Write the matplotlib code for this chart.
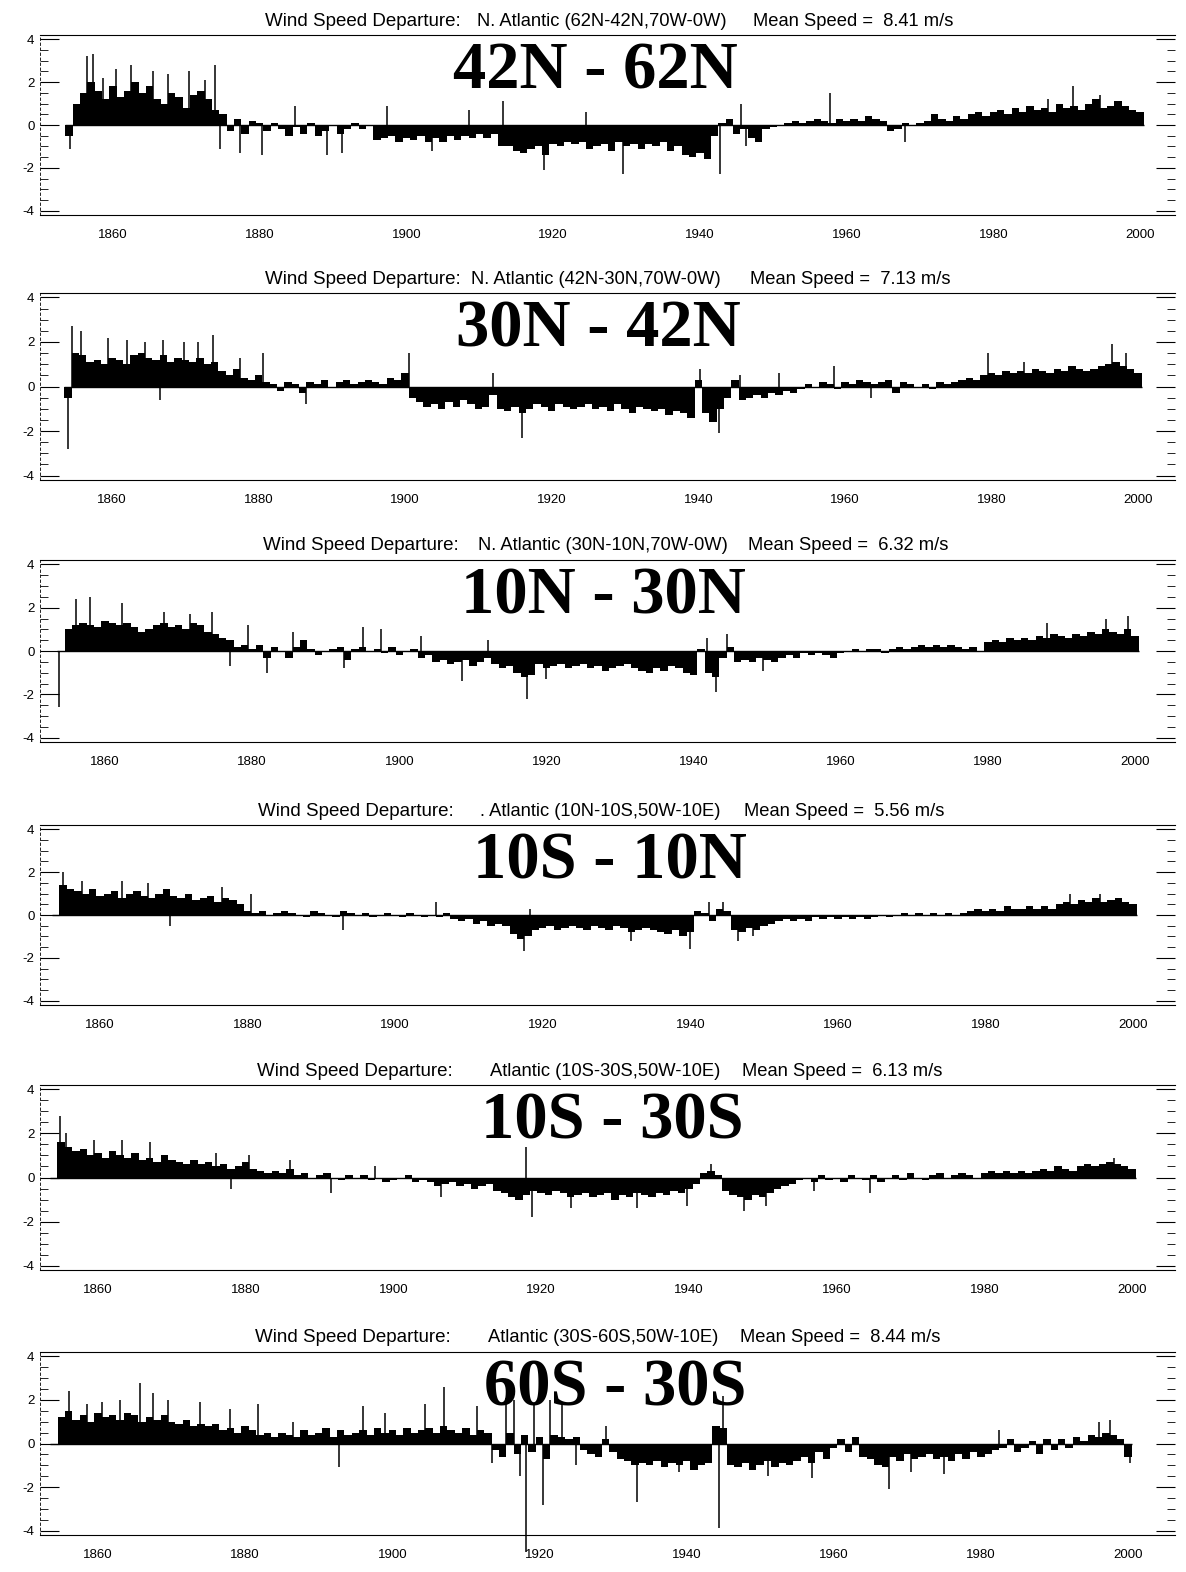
import numpy as np
import matplotlib
matplotlib.use("Agg")
import matplotlib.pyplot as plt

plt.rcParams['font.family'] = ['Liberation Sans', 'DejaVu Sans']

years = np.arange(1854, 2001)

# annual departures (m/s), 1854-2000
dep_42_62 = [
    -0.5,
    1.0, 1.5, 2.0, 1.6, 1.2, 1.8, 1.3, 1.6, 2.0,
    1.5, 1.8, 1.2, 1.0, 1.5, 1.3, 0.8, 1.4, 1.6, 1.2,
    0.7, 0.5, -0.3, 0.3, -0.4, 0.2, 0.1, -0.3, 0.1, -0.2,
    -0.5, -0.1, -0.4, 0.1, -0.5, -0.3, 0.0, -0.4, -0.2, 0.1,
    -0.2, 0.0, -0.7, -0.6, -0.5, -0.8, -0.6, -0.7, -0.5, -0.8,
    -0.6, -0.8, -0.5, -0.7, -0.5, -0.6, -0.4, -0.6, -0.4, -1.0,
    -1.0, -1.2, -1.3, -1.1, -1.0, -1.4, -0.9, -1.0, -0.8, -0.9,
    -0.8, -1.1, -1.0, -0.9, -1.2, -0.8, -1.0, -0.9, -1.1, -0.9,
    -1.0, -0.8, -1.2, -1.0, -1.4, -1.5, -1.3, -1.6, -0.5, 0.1,
    0.3, -0.4, -0.2, -0.6, -0.8, -0.2, -0.1, 0.0, 0.1, 0.2,
    0.1, 0.2, 0.3, 0.2, 0.1, 0.3, 0.2, 0.3, 0.2, 0.4,
    0.3, 0.2, -0.3, -0.2, 0.1, 0.0, 0.1, 0.2, 0.5, 0.3,
    0.2, 0.4, 0.3, 0.5, 0.6, 0.4, 0.6, 0.7, 0.5, 0.8,
    0.6, 0.9, 0.7, 0.8, 0.6, 1.0, 0.8, 0.9, 0.7, 1.0,
    1.2, 0.8, 0.9, 1.1, 0.9, 0.7, 0.6,
]
dep_30_42 = [
    -0.5,
    1.5, 1.4, 1.1, 1.2, 1.0, 1.3, 1.2, 1.0, 1.4, 1.5,
    1.3, 1.2, 1.4, 1.1, 1.3, 1.2, 1.1, 1.3, 1.0, 1.1,
    0.7, 0.5, 0.8, 0.4, 0.3, 0.5, 0.2, 0.1, -0.2, 0.2,
    0.1, -0.3, 0.2, 0.1, 0.3, 0.0, 0.2, 0.3, 0.1, 0.2,
    0.3, 0.2, 0.1, 0.4, 0.3, 0.6, -0.5, -0.7, -0.9, -0.8,
    -1.0, -0.7, -0.9, -0.6, -0.8, -1.0, -0.9, -0.4, -1.0, -1.1,
    -0.9, -1.2, -1.0, -0.8, -0.9, -1.1, -0.8, -0.9, -1.0, -0.9,
    -0.8, -1.0, -0.9, -1.1, -0.8, -1.0, -1.2, -0.9, -1.0, -1.1,
    -1.0, -1.3, -1.1, -1.2, -1.4, 0.3, -1.2, -1.6, -1.0, -0.5,
    0.3, -0.6, -0.5, -0.4, -0.5, -0.3, -0.4, -0.2, -0.3, -0.1,
    0.1, 0.0, 0.2, 0.1, -0.1, 0.2, 0.1, 0.3, 0.2, 0.1,
    0.2, 0.3, -0.3, 0.2, 0.1, 0.0, 0.1, -0.1, 0.2, 0.1,
    0.2, 0.3, 0.4, 0.3, 0.5, 0.6, 0.5, 0.7, 0.6, 0.7,
    0.6, 0.8, 0.7, 0.6, 0.8, 0.7, 0.9, 0.8, 0.7, 0.8,
    0.9, 1.0, 1.1, 0.9, 0.8, 0.6,
]
dep_10_30 = [
    0.0,
    1.0, 1.2, 1.3, 1.2, 1.1, 1.4, 1.3, 1.2, 1.3, 1.1,
    0.9, 1.0, 1.2, 1.3, 1.1, 1.2, 1.0, 1.3, 1.2, 0.9,
    0.8, 0.6, 0.5, 0.2, 0.3, 0.1, 0.3, -0.3, 0.2, 0.0,
    -0.3, 0.2, 0.5, 0.1, -0.2, 0.0, 0.1, 0.2, -0.4, 0.1,
    0.2, 0.0, 0.1, -0.1, 0.2, -0.2, 0.0, 0.1, -0.3, -0.2,
    -0.5, -0.4, -0.6, -0.5, -0.4, -0.7, -0.5, -0.3, -0.6, -0.8,
    -0.7, -1.0, -1.2, -1.1, -0.6, -0.8, -0.7, -0.6, -0.8, -0.7,
    -0.6, -0.8, -0.7, -0.9, -0.8, -0.7, -0.6, -0.8, -0.9, -1.0,
    -0.8, -0.9, -0.7, -0.8, -1.0, -1.1, 0.1, -1.0, -1.2, -0.3,
    0.2, -0.5, -0.4, -0.5, -0.3, -0.4, -0.5, -0.3, -0.2, -0.3,
    -0.1, -0.2, -0.1, -0.2, -0.3, -0.1, 0.0, 0.1, 0.0, 0.1,
    0.1, -0.1, 0.1, 0.2, 0.1, 0.2, 0.3, 0.2, 0.3, 0.2,
    0.3, 0.2, 0.1, 0.2, 0.0, 0.4, 0.5, 0.4, 0.6, 0.5,
    0.6, 0.5, 0.7, 0.6, 0.8, 0.7, 0.6, 0.8, 0.7, 0.9,
    0.8, 1.0, 0.9, 0.8, 1.0, 0.7,
]
dep_10s_10n = [
    0.0,
    1.4, 1.2, 1.1, 1.0, 1.2, 0.9, 1.0, 1.1, 0.8, 1.0,
    1.1, 0.9, 0.8, 1.0, 1.2, 0.9, 0.8, 1.0, 0.7, 0.8,
    0.9, 0.6, 0.8, 0.7, 0.5, 0.2, 0.1, 0.2, 0.0, 0.1,
    0.2, 0.1, 0.0, -0.1, 0.2, 0.1, 0.0, -0.1, 0.2, 0.1,
    0.0, 0.1, -0.1, 0.0, 0.1, 0.0, -0.1, 0.1, 0.0, -0.1,
    0.0, -0.1, 0.1, -0.2, -0.3, -0.2, -0.4, -0.3, -0.5, -0.4,
    -0.5, -0.9, -1.1, -1.0, -0.7, -0.6, -0.5, -0.7, -0.6, -0.5,
    -0.6, -0.7, -0.5, -0.6, -0.7, -0.5, -0.6, -0.8, -0.7, -0.6,
    -0.7, -0.8, -0.9, -0.7, -1.0, -0.8, 0.2, 0.1, -0.3, 0.3,
    0.2, -0.7, -0.8, -0.6, -0.7, -0.5, -0.4, -0.3, -0.2, -0.3,
    -0.2, -0.3, -0.1, -0.2, -0.1, -0.2, -0.1, -0.2, -0.1, -0.2,
    -0.1, 0.0, -0.1, 0.0, 0.1, 0.0, 0.1, 0.0, 0.1, 0.0,
    0.1, 0.0, 0.1, 0.2, 0.3, 0.2, 0.3, 0.2, 0.4, 0.3,
    0.3, 0.4, 0.3, 0.4, 0.3, 0.5, 0.6, 0.5, 0.7, 0.6,
    0.8, 0.6, 0.7, 0.8, 0.6, 0.5,
]
dep_10s_30s = [
    0.0,
    1.6, 1.4, 1.2, 1.3, 1.0, 1.1, 0.9, 1.2, 1.0, 0.9,
    1.1, 0.8, 0.9, 0.7, 1.0, 0.8, 0.7, 0.6, 0.8, 0.6,
    0.7, 0.5, 0.6, 0.4, 0.5, 0.7, 0.4, 0.3, 0.2, 0.3,
    0.2, 0.4, 0.1, 0.2, 0.0, 0.1, 0.2, 0.0, -0.1, 0.1,
    0.0, 0.1, -0.1, 0.0, -0.2, -0.1, 0.0, 0.1, -0.2, -0.1,
    -0.2, -0.4, -0.3, -0.2, -0.4, -0.3, -0.5, -0.4, -0.3, -0.6,
    -0.7, -0.9, -1.0, -0.8, -0.6, -0.7, -0.8, -0.6, -0.7, -0.9,
    -0.8, -0.7, -0.9, -0.8, -0.7, -1.0, -0.8, -0.9, -0.7, -0.8,
    -0.9, -0.7, -0.8, -0.6, -0.7, -0.5, -0.3, 0.2, 0.3, 0.1,
    -0.6, -0.8, -0.9, -1.0, -0.8, -0.9, -0.7, -0.5, -0.4, -0.3,
    -0.1, 0.0, -0.2, 0.1, -0.1, 0.0, -0.2, 0.1, 0.0, -0.1,
    0.1, -0.2, 0.0, 0.1, -0.1, 0.2, 0.0, -0.1, 0.1, 0.2,
    0.0, 0.1, 0.2, 0.1, 0.0, 0.2, 0.3, 0.2, 0.3, 0.2,
    0.3, 0.2, 0.3, 0.4, 0.3, 0.5, 0.4, 0.3, 0.5, 0.6,
    0.5, 0.6, 0.7, 0.6, 0.5, 0.4,
]
dep_60s_30s = [
    0.0,
    1.2, 1.5, 1.1, 1.3, 1.0, 1.4, 1.2, 1.3, 1.1, 1.4,
    1.3, 1.0, 1.2, 1.1, 1.3, 1.0, 0.9, 1.1, 0.8, 0.9,
    0.8, 0.9, 0.6, 0.7, 0.5, 0.8, 0.6, 0.4, 0.5, 0.3,
    0.5, 0.4, 0.3, 0.6, 0.4, 0.5, 0.7, 0.3, 0.6, 0.4,
    0.5, 0.6, 0.4, 0.7, 0.5, 0.6, 0.4, 0.7, 0.5, 0.6,
    0.7, 0.5, 0.8, 0.6, 0.5, 0.7, 0.4, 0.6, 0.5, -0.3,
    -0.6, 0.5, -0.5, 0.4, -0.4, 0.3, -0.7, 0.4, 0.3, 0.2,
    0.3, -0.3, -0.5, -0.6, 0.2, -0.4, -0.7, -0.8, -1.0, -0.9,
    -1.0, -0.8, -1.1, -0.9, -1.0, -0.8, -1.2, -1.0, -0.9, 0.8,
    0.7, -1.0, -1.1, -0.9, -1.2, -1.0, -0.8, -1.1, -0.9, -1.0,
    -0.8, -0.6, -0.9, -0.4, -0.7, -0.2, 0.2, -0.4, 0.3, -0.6,
    -0.7, -1.0, -1.1, -0.6, -0.8, -0.5, -0.7, -0.6, -0.5, -0.7,
    -0.6, -0.8, -0.5, -0.7, -0.4, -0.6, -0.5, -0.3, -0.2, 0.2,
    -0.4, -0.2, 0.1, -0.5, 0.2, -0.3, 0.2, -0.2, 0.3, 0.1,
    0.4, 0.3, 0.5, 0.4, 0.2, -0.6,
]

# single-month spikes (decimal year, departure)
spk_42_62 = [(1854.2, -1.1), (1856.5, 3.2), (1857.3, 3.3), (1858.6, 2.2), (1860.4, 2.6),
             (1862.4, 2.8), (1865.5, 2.5), (1867.5, 2.4), (1870.4, 2.5), (1872.6, 2.1),
             (1873.9, 2.8), (1874.6, -1.1), (1877.3, -1.3), (1880.3, -1.4), (1884.8, 0.9),
             (1889.2, -1.4), (1891.2, -1.3), (1897.3, 0.9), (1903.5, -1.2), (1908.5, 0.7),
             (1913.2, 1.1), (1918.8, -2.1), (1924.5, 0.6), (1929.5, -2.3), (1942.8, -2.3),
             (1945.6, 1.0), (1946.3, -1.0), (1957.8, 1.5), (1968.0, -0.8), (1987.5, 1.2),
             (1990.8, 1.8), (1994.5, 1.4)]
spk_30_42 = [(1854.0, -2.8), (1854.6, 2.7), (1855.8, 2.5), (1859.5, 2.2), (1862.0, 2.1),
             (1864.5, 2.0), (1866.9, 2.1), (1869.8, 2.0), (1871.7, 2.0), (1873.8, 2.3),
             (1866.5, -0.6), (1877.5, 1.3), (1880.6, 1.5), (1886.5, -0.8), (1900.5, 1.5),
             (1912.0, 0.6), (1915.9, -2.3), (1940.3, 0.8), (1942.8, -2.1), (1945.7, 0.5),
             (1951.0, 0.6), (1958.5, 0.9), (1963.5, -0.5), (1979.5, 1.5), (1984.5, 1.1),
             (1996.5, 1.9), (1998.3, 1.5)]
spk_10_30 = [(1853.8, -2.6), (1856.0, 2.4), (1858.0, 2.5), (1862.3, 2.2), (1868.0, 1.8),
             (1871.5, 1.7), (1874.5, 1.8), (1877.0, -0.7), (1879.5, 1.2), (1882.0, -1.0),
             (1885.5, 0.9), (1892.5, -0.8), (1895.0, 1.1), (1897.5, 1.0), (1903.0, 0.7),
             (1908.5, -1.4), (1912.0, 0.5), (1917.3, -2.2), (1920.0, -1.3), (1941.8, 0.6),
             (1943.0, -1.9), (1944.5, 0.8), (1949.5, -0.9), (1988.0, 1.3), (1996.0, 1.5),
             (1999.0, 1.6)]
spk_10s_10n = [(1855.0, 2.0), (1857.5, 1.6), (1863.0, 1.6), (1866.5, 1.5), (1876.5, 1.3),
               (1869.5, -0.5), (1880.5, 1.0), (1893.0, -0.7), (1905.5, 0.6), (1917.5, -1.7),
               (1918.3, 0.3), (1932.0, -1.2), (1940.0, -1.6), (1942.5, 0.6), (1944.5, 0.6),
               (1946.5, -1.2), (1948.5, -1.0), (1991.5, 1.0), (1995.5, 1.0)]
spk_10s_30s = [(1854.8, 2.8), (1855.6, 2.0), (1859.5, 1.7), (1863.3, 1.7), (1867.0, 1.6),
               (1876.0, 1.1), (1878.0, -0.5), (1880.5, 1.0), (1886.0, 0.8), (1891.5, -0.7),
               (1897.5, 0.5), (1906.5, -0.9), (1918.0, 1.4), (1918.8, -1.8), (1924.0, -1.4),
               (1933.0, -1.4), (1939.8, -1.3), (1943.0, 0.6), (1947.5, -1.5), (1950.5, -1.3),
               (1957.0, -0.6), (1964.5, -0.7), (1997.5, 0.9)]
spk_60s_30s = [(1856.0, 2.4), (1858.5, 1.8), (1860.5, 1.9), (1863.0, 2.0), (1865.7, 2.8),
               (1867.5, 2.3), (1869.5, 2.0), (1873.8, 1.9), (1878.0, 1.6), (1881.7, 1.8),
               (1886.5, 1.0), (1892.7, -1.1), (1896.0, 1.7), (1899.0, 1.4), (1904.5, 1.8),
               (1907.0, 2.6), (1911.5, 1.7), (1913.5, -0.9), (1915.5, 2.1), (1916.5, 2.0),
               (1917.4, -1.5), (1918.2, -5.0), (1919.2, 1.8), (1920.5, -2.8), (1921.5, 2.0),
               (1923.0, 1.9), (1925.0, -1.0), (1929.0, 0.8), (1933.3, -2.7), (1939.0, -1.3),
               (1944.4, -3.9), (1945.0, 2.2), (1951.0, -1.5), (1957.0, -1.6), (1967.5, -2.1),
               (1970.5, -1.3), (1975.0, -1.4), (1982.5, 0.6), (1996.0, 1.0), (1997.5, 1.1),
               (2000.3, -0.9)]

labels = ["42N - 62N", "30N - 42N", "10N - 30N", "10S - 10N", "10S - 30S", "60S - 30S"]
regions = ["N. Atlantic (62N-42N,70W-0W)", "N. Atlantic (42N-30N,70W-0W)",
           "N. Atlantic (30N-10N,70W-0W)", ". Atlantic (10N-10S,50W-10E)",
           "Atlantic (10S-30S,50W-10E)", "Atlantic (30S-60S,50W-10E)"]
mean_speed = [8.41, 7.13, 6.32, 5.56, 6.13, 8.44]
series = [dep_42_62, dep_30_42, dep_10_30, dep_10s_10n, dep_10s_30s, dep_60s_30s]
spikes = [spk_42_62, spk_30_42, spk_10_30, spk_10s_10n, spk_10s_30s, spk_60s_30s]

W, H = 1186, 1572
fig = plt.figure(figsize=(W / 100, H / 100), dpi=100)

# pixel layout of the six panels
tops = [35, 293, 560, 825, 1085, 1352]
bots = [215, 480, 742, 1005, 1270, 1535]
x1860 = [113, 112, 105, 100, 98, 98]
x2000 = [1140, 1138, 1135, 1133, 1132, 1128]
title_x = [(265, 477, 753), (265, 471, 750), (263, 478, 748),
           (258, 480, 744), (257, 490, 742), (255, 488, 740)]
label_x = [595, 598, 603, 610, 612, 615]
ax_l, ax_r = 40, 1175

for i in range(6):
    ax = fig.add_axes([ax_l / W, 1 - bots[i] / H, (ax_r - ax_l) / W, (bots[i] - tops[i]) / H])
    ppy = (x2000[i] - x1860[i]) / 140.0
    ax.set_xlim(1860 - (x1860[i] - ax_l) / ppy, 2000 + (ax_r - x2000[i]) / ppy)
    ax.set_ylim(-4.2, 4.2)

    ax.bar(years, series[i], width=1.0, color='black', linewidth=0)
    sx = [s[0] for s in spikes[i]]
    sv = [s[1] for s in spikes[i]]
    ax.vlines(sx, 0, sv, color='black', lw=1.1, clip_on=False)
    ax.hlines(0, 1853.5, 2000.6, color='black', lw=1.0)

    ax.spines['right'].set_visible(False)
    ax.spines['top'].set_linewidth(0.8)
    ax.spines['bottom'].set_linewidth(0.8)
    ax.spines['left'].set_linewidth(0.6)
    ax.spines['left'].set_linestyle((0, (3, 3)))

    ax.set_xticks(range(1860, 2001, 20))
    ax.tick_params(axis='x', length=0, pad=10, labelsize=9.5)
    ax.set_yticks([-4, -2, 0, 2, 4])
    ax.set_yticklabels(['-4', '-2', '0', '2', '4'])
    ax.set_yticks(np.arange(-4, 4.01, 0.5), minor=True)
    ax.tick_params(axis='y', which='major', direction='in', length=14, width=0.8,
                   labelsize=9.5, pad=4, right=True)
    ax.tick_params(axis='y', which='minor', direction='in', length=6, width=0.6, right=True)

    tx = title_x[i]
    ty = 1 - (tops[i] - 14) / H
    fig.text(tx[0] / W, ty, "Wind Speed Departure:", fontsize=13.5, va='center')
    fig.text(tx[1] / W, ty, regions[i], fontsize=13.2, va='center')
    fig.text(tx[2] / W, ty, "Mean Speed =  %.2f m/s" % mean_speed[i], fontsize=13.2, va='center')

    fig.text(label_x[i] / W, 1 - (tops[i] + 37) / H, labels[i], ha='center', va='center',
             fontsize=48, fontweight='bold', family=['Liberation Serif', 'DejaVu Serif'])

fig.savefig("out.png", dpi=100)
